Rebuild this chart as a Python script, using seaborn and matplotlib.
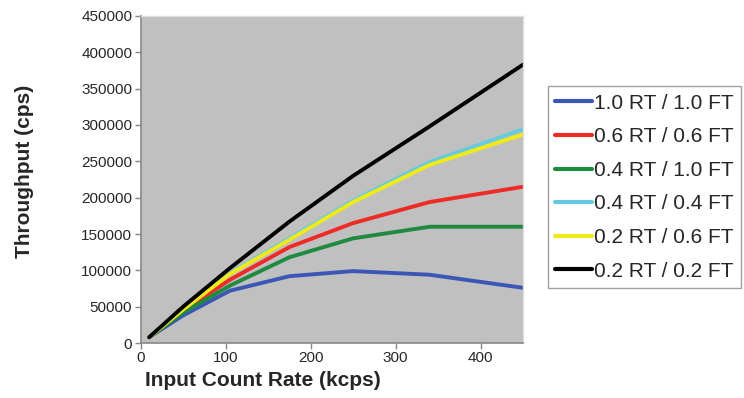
import pandas as pd
import seaborn as sns
import matplotlib.pyplot as plt

# input count rate (kcps)
input_rate = [10, 50, 105, 175, 250, 340, 450]

# throughput (cps) per shaping setting
rt10_ft10 = [8000, 38000, 72000, 92000, 99000, 94000, 76000]
rt06_ft06 = [8000, 45000, 87000, 132000, 165000, 194000, 215000]
rt04_ft10 = [8000, 42000, 79000, 118000, 144000, 160000, 160000]
rt04_ft04 = [8000, 47000, 96000, 144000, 196000, 249000, 294000]
rt02_ft06 = [8000, 46000, 95000, 142000, 194000, 245000, 287000]
rt02_ft02 = [8000, 50000, 103000, 167000, 230000, 298000, 383000]

labels = ['1.0 RT / 1.0 FT', '0.6 RT / 0.6 FT', '0.4 RT / 1.0 FT',
          '0.4 RT / 0.4 FT', '0.2 RT / 0.6 FT', '0.2 RT / 0.2 FT']
colors = ['#3b56b5', '#ee2b25', '#1f8a40', '#66cbe0', '#f0ea18', '#000000']
series = [rt10_ft10, rt06_ft06, rt04_ft10, rt04_ft04, rt02_ft06, rt02_ft02]

df = pd.concat(
    [pd.DataFrame({'rate': input_rate, 'throughput': vals, 'setting': lab})
     for lab, vals in zip(labels, series)],
    ignore_index=True)

sns.set_style('white')
plt.rcParams['font.family'] = ['Liberation Sans', 'DejaVu Sans']

fig = plt.figure(figsize=(7.44, 3.98), dpi=100)
ax = fig.add_axes([0.189, 0.138, 0.514, 0.822])
ax.set_facecolor('#c0c0c0')

sns.lineplot(data=df, x='rate', y='throughput', hue='setting',
             hue_order=labels, palette=colors, linewidth=2.8,
             sort=False, ax=ax)

ax.set_xlim(0, 450)
ax.set_ylim(0, 450000)
ax.set_xticks([0, 100, 200, 300, 400])
ax.set_yticks(range(0, 450001, 50000))
ax.tick_params(axis='both', labelsize=11, length=4, width=1, color='#888888',
               direction='out', left=True, bottom=True, pad=2)

for side in ['left', 'bottom']:
    ax.spines[side].set_color('#888888')
    ax.spines[side].set_linewidth(1.2)
for side in ['top', 'right']:
    ax.spines[side].set_color('#dddddd')
    ax.spines[side].set_linewidth(1.0)

ax.set_xlabel('Input Count Rate (kcps)', fontsize=15, fontweight='bold',
              labelpad=0)
ax.xaxis.set_label_coords(0.32, -0.085)
ax.set_ylabel('Throughput (cps)', fontsize=15, fontweight='bold')
ax.yaxis.set_label_coords(-0.279, 0.526)

handles, leg_labels = ax.get_legend_handles_labels()
ax.get_legend().remove()
leg = fig.legend(handles, leg_labels, loc='upper left',
                 bbox_to_anchor=(0.736, 0.783), fontsize=15,
                 frameon=True, fancybox=False, edgecolor='#888888',
                 handlelength=1.8, handletextpad=0.1, labelspacing=0.70,
                 borderpad=0.35, borderaxespad=0)
leg.get_frame().set_linewidth(1.0)
for line in leg.get_lines():
    line.set_linewidth(3.0)

fig.savefig('out.png', dpi=100)
